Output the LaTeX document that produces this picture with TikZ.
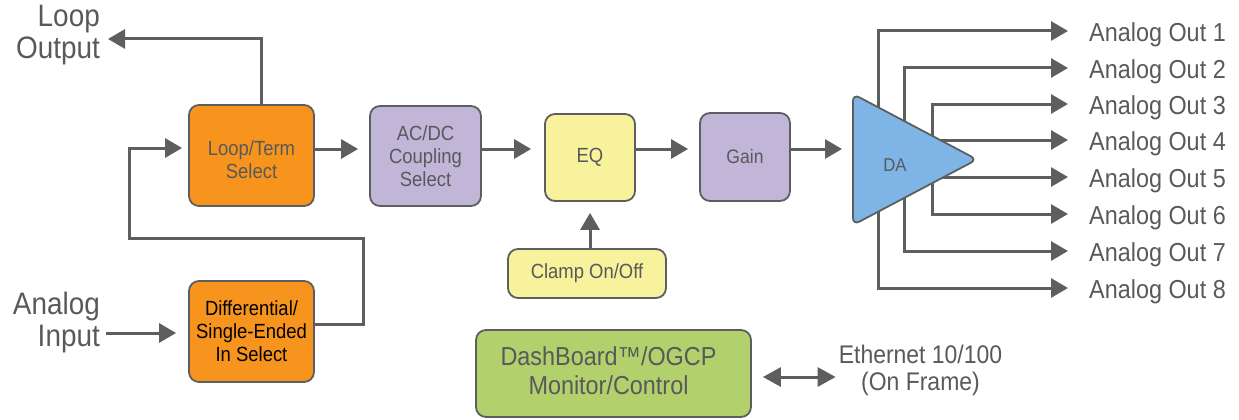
\documentclass[tikz,border=0pt]{standalone}
\usepackage{fontspec}
\setmainfont{Liberation Sans}[FakeStretch=0.9]
\usetikzlibrary{arrows.meta}
\definecolor{lc}{HTML}{5D5E60}
\definecolor{tc}{HTML}{58595B}
\definecolor{cor}{HTML}{F7941D}
\definecolor{cpu}{HTML}{C2B6D8}
\definecolor{cye}{HTML}{F7F29B}
\definecolor{cgr}{HTML}{B2D16C}
\definecolor{cbl}{HTML}{7FB5E6}
\begin{document}
\begin{tikzpicture}[x=1pt,y=-1pt,
  box/.style={draw=lc, line width=1.8pt, rounded corners=10pt, inner sep=0pt, align=center, text=tc, font=\fontsize{20.5}{23}\selectfont},
  arr/.style={draw=lc, line width=3pt, -{Triangle[length=17pt,width=19pt]}},
  darr/.style={draw=lc, line width=3pt, {Triangle[length=18pt,width=19pt]}-{Triangle[length=18pt,width=19pt]}},
  big/.style={text=tc, inner sep=0pt, font=\fontsize{31}{32}\selectfont},
  lab/.style={text=tc, inner sep=0pt, anchor=west, font=\fontsize{26}{27}\selectfont}]
\useasboundingbox (0,0) rectangle (1239,420);

% boxes
\node[box, fill=cor, minimum width=125, minimum height=101] (loop) at (251.5,155.5) {};
\node[text=tc, inner sep=0pt, align=center, font=\fontsize{20.5}{23}\selectfont] (looptxt) at (251.5,160) {Loop/Term\\Select};
\node[box, fill=cor, minimum width=125, minimum height=101, text=black] (diff) at (251.5,331.5) {Differential/\\Single-Ended\\In Select};
\node[box, fill=cpu, minimum width=111, minimum height=100] (acdc) at (425.5,156) {AC/DC\\Coupling\\Select};
\node[box, fill=cye, minimum width=90, minimum height=87] (eq) at (590,157.5) {EQ};
\node[box, fill=cpu, minimum width=90, minimum height=88, font=\fontsize{19.5}{23}\selectfont] (gain) at (745,157) {Gain};
\node[box, fill=cye, minimum width=158, minimum height=49, font=\fontsize{20.5}{23}\selectfont] (clamp) at (587,273.5) {Clamp On/Off};
\node[box, fill=cgr, minimum width=275, minimum height=87] (dash) at (613.5,373.5) {};
\node[text=tc, inner sep=0pt, align=center, font=\fontsize{26}{29}\selectfont] (dashtxt) at (608.5,371) {DashBoard™/OGCP\\Monitor/Control};

% texts
\node[big, align=right, anchor=east] (loopout) at (100,35) {Loop\\Output};
\node[big, align=right, anchor=east] (ain) at (100,322) {Analog\\Input};
\node[text=tc, inner sep=0pt, align=center, font=\fontsize{25.5}{27}\selectfont] (eth) at (920.5,370) {Ethernet 10/100\\(On Frame)};

\coordinate (yl) at (0,149);
\coordinate (lo) at (108,39);
\coordinate (ai) at (106,333);
\coordinate (daIn) at (853,149);

% connectors
\draw[arr] ([xshift=9.5pt]loop.north) |- (lo);
\draw[arr, shorten >=12pt] (ai) -- (ai -| diff.west);
\draw[arr, shorten >=6pt] (diff.east |- 0,324) -| (363,238) -| (129,148) -- (loop.west |- 0,148);
\draw[arr, shorten >=11pt] (loop.east |- yl) -- (acdc.west |- yl);
\draw[arr, shorten >=13pt] (acdc.east |- yl) -- (eq.west |- yl);
\draw[arr, shorten >=11pt] (eq.east |- yl) -- (gain.west |- yl);
\draw[arr, shorten >=11pt] (gain.east |- yl) -- (daIn);
\draw[arr, shorten >=11pt] (eq.south |- clamp.north) -- (eq.south);
\draw[darr, shorten <=11pt, shorten >=3pt] (dash.east |- 0,377) -- (eth.west |- 0,377);

% outputs
\foreach \i/\y/\x/\sy in {1/31/878/159, 2/68/904/159, 3/104/932/159, 4/140/925/140, 5/177/925/177, 6/214/932/159, 7/251/904/159, 8/288/878/159} {
  \coordinate (b\i) at (\x,\sy);
  \coordinate (t\i) at (1068,\y);
  \node[lab, anchor=base west] (o\i) at (1089,\y+10.5) {Analog Out \i};
  \draw[arr] (b\i) |- (t\i);
}

% DA
\draw[fill=cbl, draw=lc, line width=1.8pt, rounded corners=7pt] (853,94) -- (977,159.5) -- (853,225) -- cycle;
\node[text=tc, font=\fontsize{18.5}{20}\selectfont, inner sep=0pt] (da) at (895,165) {DA};
\end{tikzpicture}
\end{document}
